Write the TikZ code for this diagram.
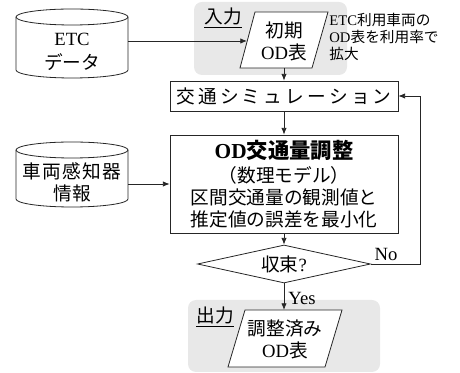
\documentclass[tikz,border=0pt]{standalone}
\usepackage{fontspec}
\setmainfont{Liberation Serif}
\newfontfamily\jp{Noto Sans CJK JP}
\usetikzlibrary{arrows.meta,shapes.geometric}
\newcommand\J[1]{{\jp #1}}
\newcommand\lsp{\kern0.17em}
\newcommand\ssp{\kern0.08em}
\begin{document}
\begin{tikzpicture}[x=0.75pt,y=-0.75pt,
  line width=0.6pt,
  every node/.style={font=\fontsize{14pt}{16.5pt}\selectfont, inner sep=0pt},
  ln/.style={draw=black!85},
  arr/.style={ln,-{Latex[length=5pt,width=4pt]}},
  grp/.style={fill=black!9,draw=none,rounded corners=6pt},
  procbox/.style={draw=black!85,fill=white,align=center},
  txt/.style={align=center}]
\useasboundingbox (0,0) rectangle (460,373);
% grey groups
\fill[grp] (194,2) rectangle (347,75);
\fill[grp] (188,300) rectangle (380,372);
% ETC cylinder
\draw[ln,fill=white] (16,17) -- (16,70) arc[start angle=180,end angle=360,x radius=42pt,y radius=6pt] -- (128,17);
\draw[ln,fill=white] (72,17) ellipse [x radius=42pt,y radius=6pt];
\node[txt,minimum width=84pt,minimum height=40pt] (etc) at (72,52) {ETC\\[1pt]\J{データ}};
% sensor cylinder
\draw[ln,fill=white] (16,150) -- (16,199) arc[start angle=180,end angle=360,x radius=42pt,y radius=6pt] -- (128,150);
\draw[ln,fill=white] (72,150) ellipse [x radius=42pt,y radius=6pt];
\node[txt,minimum width=84pt,minimum height=40pt] (sen) at (72,182) {\J{車\ssp 両\ssp 感\ssp 知\ssp 器}\\[0pt]\J{情報}};
% input parallelogram
\draw[ln,fill=white] (255,12) -- (328,12) -- (312,68) -- (240,68) -- cycle;
\node[txt,minimum width=50pt,minimum height=42pt] (inp) at (284,41) {\J{初期}\\OD\J{表}};
\coordinate (inpleft) at (247,41);
\node[anchor=south west] (inlab) at (204,28) {\underline{\J{入力}}};
\node[anchor=west,align=left,font=\fontsize{11pt}{13pt}\selectfont] (note) at (329,37) {ETC\J{利用車両の}\\OD\J{表を利用率で}\\\J{拡大}};
% simulation box
\node[procbox,minimum width=171pt,minimum height=22.5pt] (sim) at (284,96) {\J{交\lsp 通\lsp シ\lsp ミ\lsp ュ\lsp レ\lsp ー\lsp シ\lsp ョ\lsp ン}};
% OD adjust box
\node[procbox,minimum width=171pt,minimum height=73.5pt] (od) at (284,184) {{\fontsize{16pt}{18pt}\selectfont\bfseries OD\J{\bfseries 交通量調整}}\\[1pt]\J{（数理モデル）}\\\J{区間交通量の観測値と}\\\J{推定値の誤差を最小化}};
% decision
\node[diamond,draw=black!85,fill=white,aspect=4.5,minimum width=129.75pt,minimum height=28.5pt] (dia) at (284,264) {\J{収束}?};
% output parallelogram
\draw[ln,fill=white] (245,310) -- (342,310) -- (325,367) -- (228,367) -- cycle;
\node[txt,minimum width=60pt,minimum height=42pt] (out) at (285,339) {\J{調整済み}\\OD\J{表}};
\coordinate (outtop) at (284,310);
\node[anchor=south west] (outlab) at (196,327) {\underline{\J{出力}}};
% connectors
\draw[arr] (etc.east |- inpleft) -- (inpleft);
\draw[arr] (284,68) -- (sim.north);
\draw[arr] (sim.south) -- (od.north);
\draw[arr] (sen.east |- od.west) -- (od.west);
\draw[arr] (od.south) -- (dia.north);
\draw[arr] (dia.south) -- node[anchor=west,xshift=3pt,yshift=-1pt] {Yes} (outtop);
\coordinate (nr) at (420,264);
\draw[arr] (dia.east) -- (nr) -- (nr |- sim.east) -- (sim.east);
\node (no) at (386,254) {No};
\end{tikzpicture}
\end{document}
